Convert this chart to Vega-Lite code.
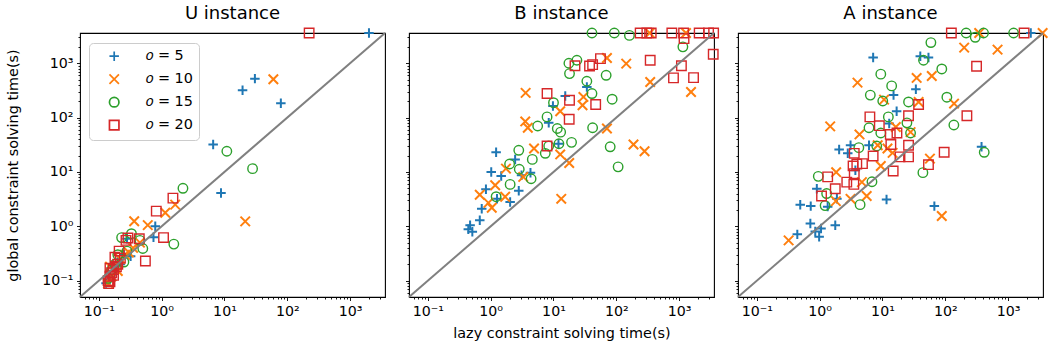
{
  "$schema": "https://vega.github.io/schema/vega-lite/v6.json",
  "autosize": {"type": "pad"},
  "padding": {"left": 5, "top": 4, "right": 5, "bottom": 5},
  "background": "white",
  "bounds": "flush",
  "spacing": 24,
  "config": {
    "font": "DejaVu Sans",
    "view": {"stroke": "black", "strokeWidth": 1.1},
    "axis": {"domain": false, "grid": false, "tickColor": "black", "tickWidth": 0.9, "labelColor": "black", "labelFont": "DejaVu Sans", "labelFontSize": 14.2, "labelPadding": 3.5, "labelOverlap": false, "labelFlush": false, "titleFont": "DejaVu Sans", "titleFontSize": 14.4, "titleFontWeight": "normal", "titleColor": "black"},
    "title": {"font": "DejaVu Sans", "fontSize": 18, "fontWeight": "normal", "color": "black", "offset": 1},
    "legend": {"labelFont": "DejaVu Sans"}
  },
  "datasets": {
    "diag": [{"x": 0.05, "y": 0.05}, {"x": 3600, "y": 3600}],
    "pts": [
      {"p":"U","o":5,"x":2000,"y":3600},{"p":"U","o":5,"x":19.4,"y":318},{"p":"U","o":5,"x":30.5,"y":521},{"p":"U","o":5,"x":79,"y":184},{"p":"U","o":5,"x":6.6,"y":32},{"p":"U","o":5,"x":8.8,"y":4.1},{"p":"U","o":5,"x":0.79,"y":1.0},{"p":"U","o":5,"x":0.74,"y":0.63},{"p":"U","o":5,"x":0.32,"y":0.28},{"p":"U","o":5,"x":0.28,"y":0.59},{"p":"U","o":5,"x":0.25,"y":0.3},{"p":"U","o":5,"x":0.2,"y":0.22},{"p":"U","o":5,"x":0.18,"y":0.15},{"p":"U","o":5,"x":0.15,"y":0.12},{"p":"U","o":5,"x":0.14,"y":0.1},{"p":"U","o":5,"x":0.17,"y":0.18},{"p":"U","o":5,"x":0.13,"y":0.09},{"p":"U","o":5,"x":0.22,"y":0.2},
      {"p":"U","o":10,"x":60,"y":507},{"p":"U","o":10,"x":21.4,"y":1.23},{"p":"U","o":10,"x":1.64,"y":2.5},{"p":"U","o":10,"x":1.14,"y":1.78},{"p":"U","o":10,"x":0.365,"y":1.24},{"p":"U","o":10,"x":0.6,"y":1.05},{"p":"U","o":10,"x":0.16,"y":0.12},{"p":"U","o":10,"x":0.14,"y":0.09},{"p":"U","o":10,"x":0.2,"y":0.15},{"p":"U","o":10,"x":0.22,"y":0.25},{"p":"U","o":10,"x":0.3,"y":0.33},{"p":"U","o":10,"x":0.15,"y":0.18},{"p":"U","o":10,"x":0.26,"y":0.3},{"p":"U","o":10,"x":0.45,"y":0.5},{"p":"U","o":10,"x":0.35,"y":0.4},
      {"p":"U","o":15,"x":10.9,"y":24},{"p":"U","o":15,"x":28,"y":11.5},{"p":"U","o":15,"x":2.18,"y":5.0},{"p":"U","o":15,"x":1.56,"y":0.47},{"p":"U","o":15,"x":0.5,"y":0.39},{"p":"U","o":15,"x":0.23,"y":0.62},{"p":"U","o":15,"x":0.33,"y":0.73},{"p":"U","o":15,"x":0.45,"y":0.55},{"p":"U","o":15,"x":0.2,"y":0.3},{"p":"U","o":15,"x":0.16,"y":0.16},{"p":"U","o":15,"x":0.25,"y":0.22},{"p":"U","o":15,"x":0.14,"y":0.11},{"p":"U","o":15,"x":0.18,"y":0.2},{"p":"U","o":15,"x":0.28,"y":0.35},
      {"p":"U","o":20,"x":223,"y":3600},{"p":"U","o":20,"x":1.51,"y":3.3},{"p":"U","o":20,"x":0.82,"y":1.9},{"p":"U","o":20,"x":1.07,"y":0.62},{"p":"U","o":20,"x":0.55,"y":0.23},{"p":"U","o":20,"x":0.29,"y":0.61},{"p":"U","o":20,"x":0.44,"y":0.59},{"p":"U","o":20,"x":0.143,"y":0.088},{"p":"U","o":20,"x":0.171,"y":0.125},{"p":"U","o":20,"x":0.18,"y":0.27},{"p":"U","o":20,"x":0.21,"y":0.35},{"p":"U","o":20,"x":0.27,"y":0.55},{"p":"U","o":20,"x":0.15,"y":0.17},{"p":"U","o":20,"x":0.14,"y":0.1},{"p":"U","o":20,"x":0.15,"y":0.12},{"p":"U","o":20,"x":0.16,"y":0.14},{"p":"U","o":20,"x":0.17,"y":0.16},{"p":"U","o":20,"x":0.2,"y":0.2},{"p":"U","o":20,"x":0.22,"y":0.26},{"p":"U","o":20,"x":0.19,"y":0.18},{"p":"U","o":20,"x":0.15,"y":0.095},
      {"p":"B","o":5,"x":34,"y":365},{"p":"B","o":5,"x":15.4,"y":250},{"p":"B","o":5,"x":9.8,"y":163},{"p":"B","o":5,"x":8.4,"y":80},{"p":"B","o":5,"x":12,"y":33},{"p":"B","o":5,"x":1.22,"y":23},{"p":"B","o":5,"x":2.45,"y":16.9},{"p":"B","o":5,"x":4.3,"y":9.7},{"p":"B","o":5,"x":3.1,"y":8.7},{"p":"B","o":5,"x":1.02,"y":10},{"p":"B","o":5,"x":1.47,"y":8.4},{"p":"B","o":5,"x":0.84,"y":4.8},{"p":"B","o":5,"x":2.8,"y":4.5},{"p":"B","o":5,"x":2.04,"y":2.8},{"p":"B","o":5,"x":0.72,"y":2.1},{"p":"B","o":5,"x":0.67,"y":1.29},{"p":"B","o":5,"x":0.47,"y":1.05},{"p":"B","o":5,"x":0.44,"y":0.88},{"p":"B","o":5,"x":0.51,"y":0.79},{"p":"B","o":5,"x":1.26,"y":3.2},
      {"p":"B","o":10,"x":71,"y":1250},{"p":"B","o":10,"x":144,"y":985},{"p":"B","o":10,"x":1290,"y":3600},{"p":"B","o":10,"x":340,"y":3600},{"p":"B","o":10,"x":347,"y":453},{"p":"B","o":10,"x":1550,"y":296},{"p":"B","o":10,"x":3.6,"y":285},{"p":"B","o":10,"x":30,"y":240},{"p":"B","o":10,"x":29,"y":169},{"p":"B","o":10,"x":12.8,"y":131},{"p":"B","o":10,"x":3.55,"y":85},{"p":"B","o":10,"x":3.9,"y":65},{"p":"B","o":10,"x":71,"y":63},{"p":"B","o":10,"x":188,"y":32},{"p":"B","o":10,"x":282,"y":24},{"p":"B","o":10,"x":4.9,"y":27},{"p":"B","o":10,"x":12.8,"y":21},{"p":"B","o":10,"x":17.8,"y":14.6},{"p":"B","o":10,"x":3.3,"y":8.1},{"p":"B","o":10,"x":1.75,"y":11.5},{"p":"B","o":10,"x":1.18,"y":5.7},{"p":"B","o":10,"x":0.67,"y":3.8},{"p":"B","o":10,"x":1.7,"y":3.5},{"p":"B","o":10,"x":0.92,"y":2.7},{"p":"B","o":10,"x":1.04,"y":2.2},{"p":"B","o":10,"x":13.3,"y":3.2},
      {"p":"B","o":15,"x":41,"y":3600},{"p":"B","o":15,"x":93,"y":3600},{"p":"B","o":15,"x":162,"y":3250},{"p":"B","o":15,"x":17.6,"y":1000},{"p":"B","o":15,"x":23.6,"y":1135},{"p":"B","o":15,"x":18,"y":644},{"p":"B","o":15,"x":69,"y":600},{"p":"B","o":15,"x":34,"y":466},{"p":"B","o":15,"x":41,"y":277},{"p":"B","o":15,"x":86,"y":218},{"p":"B","o":15,"x":1150,"y":2000},{"p":"B","o":15,"x":10,"y":188},{"p":"B","o":15,"x":7.9,"y":103},{"p":"B","o":15,"x":5.6,"y":70},{"p":"B","o":15,"x":11.5,"y":63},{"p":"B","o":15,"x":13,"y":54},{"p":"B","o":15,"x":42,"y":65},{"p":"B","o":15,"x":19.4,"y":35},{"p":"B","o":15,"x":12.2,"y":33},{"p":"B","o":15,"x":8.4,"y":30},{"p":"B","o":15,"x":7.4,"y":22},{"p":"B","o":15,"x":4.6,"y":17},{"p":"B","o":15,"x":2.8,"y":25},{"p":"B","o":15,"x":2.0,"y":14},{"p":"B","o":15,"x":2.85,"y":11.2},{"p":"B","o":15,"x":4.4,"y":7.5},{"p":"B","o":15,"x":2.04,"y":5.9},{"p":"B","o":15,"x":1.22,"y":3.5},{"p":"B","o":15,"x":80,"y":29},{"p":"B","o":15,"x":107,"y":12.4},
      {"p":"B","o":20,"x":240,"y":3600},{"p":"B","o":20,"x":307,"y":3600},{"p":"B","o":20,"x":360,"y":3600},{"p":"B","o":20,"x":767,"y":3600},{"p":"B","o":20,"x":1180,"y":3600},{"p":"B","o":20,"x":2090,"y":3600},{"p":"B","o":20,"x":2950,"y":3600},{"p":"B","o":20,"x":3550,"y":3600},{"p":"B","o":20,"x":1200,"y":2840},{"p":"B","o":20,"x":3500,"y":1460},{"p":"B","o":20,"x":347,"y":1135},{"p":"B","o":20,"x":1090,"y":900},{"p":"B","o":20,"x":815,"y":537},{"p":"B","o":20,"x":1700,"y":543},{"p":"B","o":20,"x":56,"y":1215},{"p":"B","o":20,"x":22,"y":900},{"p":"B","o":20,"x":37.5,"y":890},{"p":"B","o":20,"x":42,"y":944},{"p":"B","o":20,"x":7.9,"y":277},{"p":"B","o":20,"x":18,"y":209},{"p":"B","o":20,"x":47,"y":174},{"p":"B","o":20,"x":17.8,"y":93},{"p":"B","o":20,"x":7.9,"y":30},
      {"p":"A","o":5,"x":2300,"y":3600},{"p":"A","o":5,"x":7.1,"y":1270},{"p":"A","o":5,"x":40,"y":1340},{"p":"A","o":5,"x":54,"y":1270},{"p":"A","o":5,"x":34,"y":332},{"p":"A","o":5,"x":15,"y":259},{"p":"A","o":5,"x":16.8,"y":131},{"p":"A","o":5,"x":12.8,"y":78},{"p":"A","o":5,"x":3.1,"y":31},{"p":"A","o":5,"x":2.04,"y":26},{"p":"A","o":5,"x":2.8,"y":22},{"p":"A","o":5,"x":6.1,"y":31},{"p":"A","o":5,"x":3.7,"y":10.7},{"p":"A","o":5,"x":378,"y":29},{"p":"A","o":5,"x":0.9,"y":4.9},{"p":"A","o":5,"x":1.88,"y":3.2},{"p":"A","o":5,"x":1.34,"y":2.3},{"p":"A","o":5,"x":0.49,"y":2.5},{"p":"A","o":5,"x":0.72,"y":2.35},{"p":"A","o":5,"x":11.6,"y":3.1},{"p":"A","o":5,"x":67,"y":2.35},{"p":"A","o":5,"x":0.71,"y":1.12},{"p":"A","o":5,"x":1.05,"y":0.91},{"p":"A","o":5,"x":0.98,"y":0.64},{"p":"A","o":5,"x":1.77,"y":1.05},{"p":"A","o":5,"x":0.44,"y":0.71},{"p":"A","o":5,"x":0.85,"y":0.8},
      {"p":"A","o":10,"x":347,"y":3600},{"p":"A","o":10,"x":3550,"y":3600},{"p":"A","o":10,"x":200,"y":1940},{"p":"A","o":10,"x":680,"y":1780},{"p":"A","o":10,"x":4.0,"y":440},{"p":"A","o":10,"x":35,"y":537},{"p":"A","o":10,"x":61,"y":583},{"p":"A","o":10,"x":10.6,"y":214},{"p":"A","o":10,"x":37.6,"y":194},{"p":"A","o":10,"x":138,"y":181},{"p":"A","o":10,"x":1.47,"y":69},{"p":"A","o":10,"x":4.3,"y":49},{"p":"A","o":10,"x":16.3,"y":67},{"p":"A","o":10,"x":28,"y":54},{"p":"A","o":10,"x":8.4,"y":31},{"p":"A","o":10,"x":12,"y":27},{"p":"A","o":10,"x":14.5,"y":22.4},{"p":"A","o":10,"x":9.4,"y":12.9},{"p":"A","o":10,"x":57,"y":17.6},{"p":"A","o":10,"x":1.83,"y":9.9},{"p":"A","o":10,"x":4.7,"y":6.5},{"p":"A","o":10,"x":3.1,"y":3.2},{"p":"A","o":10,"x":5.6,"y":3.6},{"p":"A","o":10,"x":1.81,"y":2.9},{"p":"A","o":10,"x":88,"y":1.55},{"p":"A","o":10,"x":0.32,"y":0.55},
      {"p":"A","o":15,"x":215,"y":3600},{"p":"A","o":15,"x":407,"y":3600},{"p":"A","o":15,"x":1225,"y":3600},{"p":"A","o":15,"x":300,"y":3000},{"p":"A","o":15,"x":59,"y":2400},{"p":"A","o":15,"x":45,"y":1135},{"p":"A","o":15,"x":88,"y":785},{"p":"A","o":15,"x":9.4,"y":630},{"p":"A","o":15,"x":14,"y":383},{"p":"A","o":15,"x":6.4,"y":259},{"p":"A","o":15,"x":10.1,"y":202},{"p":"A","o":15,"x":26,"y":194},{"p":"A","o":15,"x":106,"y":237},{"p":"A","o":15,"x":12.4,"y":103},{"p":"A","o":15,"x":24.5,"y":80},{"p":"A","o":15,"x":6.1,"y":65},{"p":"A","o":15,"x":9.4,"y":52},{"p":"A","o":15,"x":28,"y":52},{"p":"A","o":15,"x":137,"y":73},{"p":"A","o":15,"x":8.1,"y":30},{"p":"A","o":15,"x":4.2,"y":28},{"p":"A","o":15,"x":417,"y":23},{"p":"A","o":15,"x":44,"y":9.7},{"p":"A","o":15,"x":6.8,"y":6.6},{"p":"A","o":15,"x":0.95,"y":8.3},{"p":"A","o":15,"x":1.29,"y":4.0},{"p":"A","o":15,"x":1.22,"y":2.4},{"p":"A","o":15,"x":4.4,"y":2.5},
      {"p":"A","o":20,"x":125,"y":3600},{"p":"A","o":20,"x":1800,"y":3600},{"p":"A","o":20,"x":315,"y":880},{"p":"A","o":20,"x":221,"y":108},{"p":"A","o":20,"x":37.6,"y":174},{"p":"A","o":20,"x":26,"y":108},{"p":"A","o":20,"x":6.3,"y":103},{"p":"A","o":20,"x":8.9,"y":71},{"p":"A","o":20,"x":13.3,"y":49},{"p":"A","o":20,"x":17,"y":52},{"p":"A","o":20,"x":13.6,"y":32},{"p":"A","o":20,"x":26,"y":31},{"p":"A","o":20,"x":3.55,"y":22},{"p":"A","o":20,"x":7.1,"y":19.7},{"p":"A","o":20,"x":19,"y":18.9},{"p":"A","o":20,"x":26,"y":18.9},{"p":"A","o":20,"x":96,"y":23},{"p":"A","o":20,"x":54,"y":13.6},{"p":"A","o":20,"x":3.4,"y":12.9},{"p":"A","o":20,"x":3.9,"y":13.9},{"p":"A","o":20,"x":4.8,"y":14.2},{"p":"A","o":20,"x":3.55,"y":9.3},{"p":"A","o":20,"x":14.8,"y":10.4},{"p":"A","o":20,"x":1.34,"y":8.1},{"p":"A","o":20,"x":2.7,"y":6.5},{"p":"A","o":20,"x":3.5,"y":5.9},{"p":"A","o":20,"x":1.77,"y":4.9},{"p":"A","o":20,"x":1.07,"y":3.6}
    ]
  },
  "hconcat": [
    {
      "title": "U instance",
      "width": 305, "height": 264,
      "layer": [
        {
          "data": {"name": "pts"},
          "transform": [{"filter": "datum.p == 'U'"}],
          "mark": {"type": "point", "filled": false, "opacity": 1, "size": 90},
          "encoding": {
            "x": {"field": "x", "type": "quantitative", "scale": {"type": "log", "domain": [0.05, 3600], "nice": false, "zero": false},
                  "axis": {"title": null, "values": [0.06,0.07,0.08,0.09,0.1,0.2,0.3,0.4,0.5,0.6,0.7,0.8,0.9,1,2,3,4,5,6,7,8,9,10,20,30,40,50,60,70,80,90,100,200,300,400,500,600,700,800,900,1000,2000,3000],
                           "labelExpr": "datum.value==0.1?'10⁻¹':datum.value==1?'10⁰':datum.value==10?'10¹':datum.value==100?'10²':datum.value==1000?'10³':''",
                           "tickSize": {"condition": {"test": "indexof([0.1,1,10,100,1000], datum.value) >= 0", "value": 3.5}, "value": 2}}},
            "y": {"field": "y", "type": "quantitative", "scale": {"type": "log", "domain": [0.05, 3600], "nice": false, "zero": false},
                  "axis": {"title": "global constraint solving time(s)", "titlePadding": 21, "values": [0.06,0.07,0.08,0.09,0.1,0.2,0.3,0.4,0.5,0.6,0.7,0.8,0.9,1,2,3,4,5,6,7,8,9,10,20,30,40,50,60,70,80,90,100,200,300,400,500,600,700,800,900,1000,2000,3000],
                           "labelExpr": "datum.value==0.1?'10⁻¹':datum.value==1?'10⁰':datum.value==10?'10¹':datum.value==100?'10²':datum.value==1000?'10³':''",
                           "tickSize": {"condition": {"test": "indexof([0.1,1,10,100,1000], datum.value) >= 0", "value": 3.5}, "value": 2}}},
            "color": {"field": "o", "type": "ordinal", "scale": {"domain": [5, 10, 15, 20], "range": ["#1f77b4", "#ff7f0e", "#2ca02c", "#d62728"]},
                      "legend": {"orient": "none", "legendX": 9, "legendY": 10, "title": null, "labelExpr": "'𝑜 = ' + datum.label", "padding": 6, "rowPadding": 6, "symbolOffset": 12, "labelOffset": 25, "fillColor": "rgba(255,255,255,0.8)", "strokeColor": "#cccccc", "cornerRadius": 4, "labelFontSize": 14.4, "labelColor": "black", "symbolSize": 90, "symbolStrokeWidth": 1.7}},
            "shape": {"field": "o", "type": "ordinal", "scale": {"domain": [5, 10, 15, 20], "range": ["M-1,0H1M0,-1V1", "M-1,-1L1,1M-1,1L1,-1", "circle", "square"]},
                      "legend": {"orient": "none", "legendX": 9, "legendY": 10, "title": null, "labelExpr": "'𝑜 = ' + datum.label", "padding": 6, "rowPadding": 6, "symbolOffset": 12, "labelOffset": 25, "fillColor": "rgba(255,255,255,0.8)", "strokeColor": "#cccccc", "cornerRadius": 4, "labelFontSize": 14.4, "labelColor": "black", "symbolSize": 90, "symbolStrokeWidth": 1.7}},
            "strokeWidth": {"condition": {"test": "datum.o <= 10", "value": 2}, "value": 1.4}
          }
        },
        {
          "data": {"name": "diag"},
          "mark": {"type": "line", "color": "#808080", "strokeWidth": 2},
          "encoding": {"x": {"field": "x", "type": "quantitative"}, "y": {"field": "y", "type": "quantitative"}}
        }
      ]
    },
    {
      "title": "B instance",
      "width": 305, "height": 264,
      "layer": [
        {
          "data": {"name": "pts"},
          "transform": [{"filter": "datum.p == 'B'"}],
          "mark": {"type": "point", "filled": false, "opacity": 1, "size": 90},
          "encoding": {
            "x": {"field": "x", "type": "quantitative", "scale": {"type": "log", "domain": [0.05, 3600], "nice": false, "zero": false},
                  "axis": {"title": "lazy constraint solving time(s)", "titlePadding": 8, "values": [0.06,0.07,0.08,0.09,0.1,0.2,0.3,0.4,0.5,0.6,0.7,0.8,0.9,1,2,3,4,5,6,7,8,9,10,20,30,40,50,60,70,80,90,100,200,300,400,500,600,700,800,900,1000,2000,3000],
                           "labelExpr": "datum.value==0.1?'10⁻¹':datum.value==1?'10⁰':datum.value==10?'10¹':datum.value==100?'10²':datum.value==1000?'10³':''",
                           "tickSize": {"condition": {"test": "indexof([0.1,1,10,100,1000], datum.value) >= 0", "value": 3.5}, "value": 2}}},
            "y": {"field": "y", "type": "quantitative", "scale": {"type": "log", "domain": [0.05, 3600], "nice": false, "zero": false},
                  "axis": {"title": null, "labels": false, "values": [0.06,0.07,0.08,0.09,0.1,0.2,0.3,0.4,0.5,0.6,0.7,0.8,0.9,1,2,3,4,5,6,7,8,9,10,20,30,40,50,60,70,80,90,100,200,300,400,500,600,700,800,900,1000,2000,3000],
                           "tickSize": {"condition": {"test": "indexof([0.1,1,10,100,1000], datum.value) >= 0", "value": 3.5}, "value": 2}}},
            "color": {"field": "o", "type": "ordinal", "scale": {"domain": [5, 10, 15, 20], "range": ["#1f77b4", "#ff7f0e", "#2ca02c", "#d62728"]},
                      "legend": {"orient": "none", "legendX": 9, "legendY": 10, "title": null, "labelExpr": "'𝑜 = ' + datum.label", "padding": 6, "rowPadding": 6, "symbolOffset": 12, "labelOffset": 25, "fillColor": "rgba(255,255,255,0.8)", "strokeColor": "#cccccc", "cornerRadius": 4, "labelFontSize": 14.4, "labelColor": "black", "symbolSize": 90, "symbolStrokeWidth": 1.7}},
            "shape": {"field": "o", "type": "ordinal", "scale": {"domain": [5, 10, 15, 20], "range": ["M-1,0H1M0,-1V1", "M-1,-1L1,1M-1,1L1,-1", "circle", "square"]},
                      "legend": {"orient": "none", "legendX": 9, "legendY": 10, "title": null, "labelExpr": "'𝑜 = ' + datum.label", "padding": 6, "rowPadding": 6, "symbolOffset": 12, "labelOffset": 25, "fillColor": "rgba(255,255,255,0.8)", "strokeColor": "#cccccc", "cornerRadius": 4, "labelFontSize": 14.4, "labelColor": "black", "symbolSize": 90, "symbolStrokeWidth": 1.7}},
            "strokeWidth": {"condition": {"test": "datum.o <= 10", "value": 2}, "value": 1.4}
          }
        },
        {
          "data": {"name": "diag"},
          "mark": {"type": "line", "color": "#808080", "strokeWidth": 2},
          "encoding": {"x": {"field": "x", "type": "quantitative"}, "y": {"field": "y", "type": "quantitative"}}
        }
      ]
    },
    {
      "title": "A instance",
      "width": 305, "height": 264,
      "layer": [
        {
          "data": {"name": "pts"},
          "transform": [{"filter": "datum.p == 'A'"}],
          "mark": {"type": "point", "filled": false, "opacity": 1, "size": 90},
          "encoding": {
            "x": {"field": "x", "type": "quantitative", "scale": {"type": "log", "domain": [0.05, 3600], "nice": false, "zero": false},
                  "axis": {"title": null, "values": [0.06,0.07,0.08,0.09,0.1,0.2,0.3,0.4,0.5,0.6,0.7,0.8,0.9,1,2,3,4,5,6,7,8,9,10,20,30,40,50,60,70,80,90,100,200,300,400,500,600,700,800,900,1000,2000,3000],
                           "labelExpr": "datum.value==0.1?'10⁻¹':datum.value==1?'10⁰':datum.value==10?'10¹':datum.value==100?'10²':datum.value==1000?'10³':''",
                           "tickSize": {"condition": {"test": "indexof([0.1,1,10,100,1000], datum.value) >= 0", "value": 3.5}, "value": 2}}},
            "y": {"field": "y", "type": "quantitative", "scale": {"type": "log", "domain": [0.05, 3600], "nice": false, "zero": false},
                  "axis": {"title": null, "labels": false, "values": [0.06,0.07,0.08,0.09,0.1,0.2,0.3,0.4,0.5,0.6,0.7,0.8,0.9,1,2,3,4,5,6,7,8,9,10,20,30,40,50,60,70,80,90,100,200,300,400,500,600,700,800,900,1000,2000,3000],
                           "tickSize": {"condition": {"test": "indexof([0.1,1,10,100,1000], datum.value) >= 0", "value": 3.5}, "value": 2}}},
            "color": {"field": "o", "type": "ordinal", "scale": {"domain": [5, 10, 15, 20], "range": ["#1f77b4", "#ff7f0e", "#2ca02c", "#d62728"]},
                      "legend": {"orient": "none", "legendX": 9, "legendY": 10, "title": null, "labelExpr": "'𝑜 = ' + datum.label", "padding": 6, "rowPadding": 6, "symbolOffset": 12, "labelOffset": 25, "fillColor": "rgba(255,255,255,0.8)", "strokeColor": "#cccccc", "cornerRadius": 4, "labelFontSize": 14.4, "labelColor": "black", "symbolSize": 90, "symbolStrokeWidth": 1.7}},
            "shape": {"field": "o", "type": "ordinal", "scale": {"domain": [5, 10, 15, 20], "range": ["M-1,0H1M0,-1V1", "M-1,-1L1,1M-1,1L1,-1", "circle", "square"]},
                      "legend": {"orient": "none", "legendX": 9, "legendY": 10, "title": null, "labelExpr": "'𝑜 = ' + datum.label", "padding": 6, "rowPadding": 6, "symbolOffset": 12, "labelOffset": 25, "fillColor": "rgba(255,255,255,0.8)", "strokeColor": "#cccccc", "cornerRadius": 4, "labelFontSize": 14.4, "labelColor": "black", "symbolSize": 90, "symbolStrokeWidth": 1.7}},
            "strokeWidth": {"condition": {"test": "datum.o <= 10", "value": 2}, "value": 1.4}
          }
        },
        {
          "data": {"name": "diag"},
          "mark": {"type": "line", "color": "#808080", "strokeWidth": 2},
          "encoding": {"x": {"field": "x", "type": "quantitative"}, "y": {"field": "y", "type": "quantitative"}}
        }
      ]
    }
  ]
}
